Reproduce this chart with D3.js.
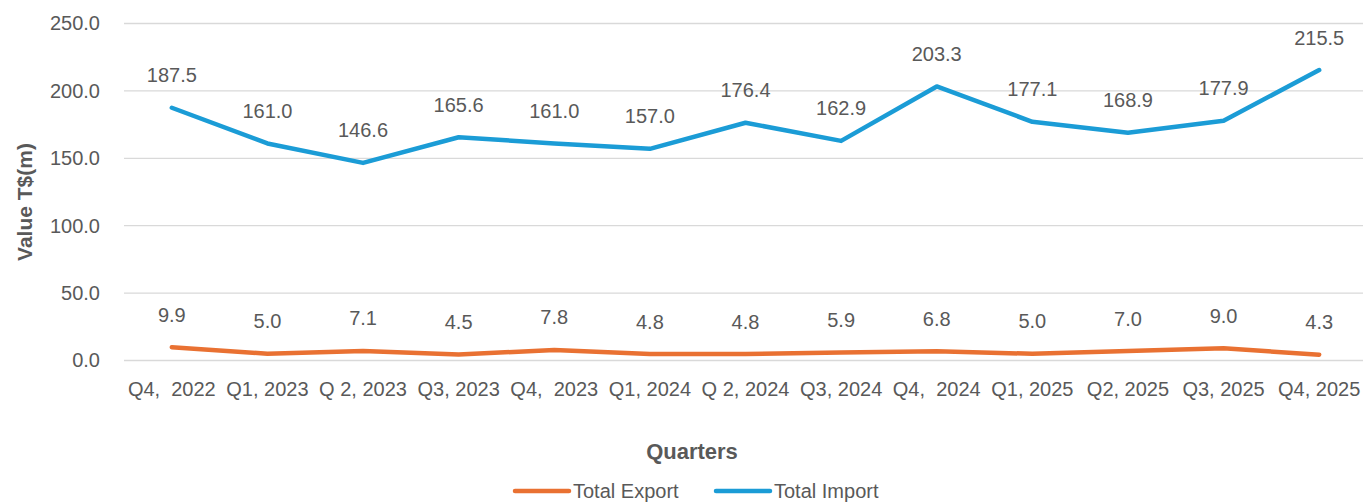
<!DOCTYPE html>
<html>
<head>
<meta charset="utf-8">
<script src="https://cdn.jsdelivr.net/npm/d3@7"></script>
<style>
  body { margin: 0; background: #fff; }
  text { font-family: "Liberation Sans", Arial, sans-serif; fill: #595959; }
</style>
</head>
<body>
<div class="container"></div>
<script>
// chart data
const quarters = ["Q4,  2022", "Q1, 2023", "Q 2, 2023", "Q3, 2023", "Q4,  2023", "Q1, 2024", "Q 2, 2024",
                  "Q3, 2024", "Q4,  2024", "Q1, 2025", "Q2, 2025", "Q3, 2025", "Q4, 2025"];
const totalExport = [9.9, 5.0, 7.1, 4.5, 7.8, 4.8, 4.8, 5.9, 6.8, 5.0, 7.0, 9.0, 4.3];
const totalImport = [187.5, 161.0, 146.6, 165.6, 161.0, 157.0, 176.4, 162.9, 203.3, 177.1, 168.9, 177.9, 215.5];
const yTicks = [0, 50, 100, 150, 200, 250];

const w = 1363, h = 503;
const plotLeft = 124, plotRight = 1367, plotTop = 23.5, plotBottom = 360.5;

const svg = d3.select(".container")
  .append("svg")
  .attr("width", w)
  .attr("height", h);

const xScale = d3.scaleBand()
  .domain(quarters)
  .range([plotLeft, plotRight]);

const yScale = d3.scaleLinear()
  .domain([0, 250])
  .range([plotBottom, plotTop]);

// gridlines
svg.append("g")
  .selectAll("line")
  .data(yTicks)
  .enter()
  .append("line")
  .attr("x1", plotLeft)
  .attr("x2", w)
  .attr("y1", d => yScale(d))
  .attr("y2", d => yScale(d))
  .attr("stroke", "#d9d9d9")
  .attr("stroke-width", 1.3);

// y axis labels
const yAxis = d3.axisLeft(yScale).tickValues(yTicks).tickFormat(d3.format(".1f")).tickSize(0).tickPadding(0);
const yAxisGroup = svg.append("g")
  .attr("transform", `translate(100,0)`)
  .call(yAxis);
yAxisGroup.select(".domain").remove();
yAxisGroup.selectAll("text")
  .style("font-size", "20px")
  .attr("fill", "#595959");

// x axis labels
const xAxis = d3.axisBottom(xScale).tickSize(0).tickPadding(21);
const xAxisGroup = svg.append("g")
  .attr("transform", `translate(0,${plotBottom})`)
  .call(xAxis);
xAxisGroup.select(".domain").remove();
xAxisGroup.selectAll("text")
  .style("font-size", "20px")
  .style("white-space", "pre")
  .attr("fill", "#595959");

// axis titles
svg.append("text")
  .attr("transform", "rotate(-90)")
  .attr("x", -202)
  .attr("y", 32)
  .style("font-size", "21px")
  .style("font-weight", "bold")
  .style("text-anchor", "middle")
  .text("Value T$(m)");

svg.append("text")
  .attr("x", 692)
  .attr("y", 459)
  .style("font-size", "22px")
  .style("font-weight", "bold")
  .style("text-anchor", "middle")
  .text("Quarters");

// lines
const series = [
  { name: "Total Export", values: totalExport, color: "#E97132" },
  { name: "Total Import", values: totalImport, color: "#1B9CD6" }
];

const line = d3.line()
  .x((d, i) => xScale(quarters[i]) + xScale.bandwidth() / 2)
  .y(d => yScale(d));

series.forEach(s => {
  svg.append("path")
    .datum(s.values)
    .attr("fill", "none")
    .attr("stroke", s.color)
    .attr("stroke-width", 4.5)
    .attr("stroke-linejoin", "round")
    .attr("stroke-linecap", "round")
    .attr("d", line);

  svg.append("g")
    .selectAll("text")
    .data(s.values)
    .enter()
    .append("text")
    .attr("x", (d, i) => xScale(quarters[i]) + xScale.bandwidth() / 2)
    .attr("y", d => yScale(d) - 25.5)
    .style("font-size", "20px")
    .style("text-anchor", "middle")
    .text(d => d3.format(".1f")(d));
});

// legend
const legend = svg.append("g").attr("transform", "translate(0,491)");
const legendX = [515, 716];
series.forEach((s, i) => {
  legend.append("line")
    .attr("x1", legendX[i])
    .attr("x2", legendX[i] + 54)
    .attr("y1", 0)
    .attr("y2", 0)
    .attr("stroke", s.color)
    .attr("stroke-width", 4.5)
    .attr("stroke-linecap", "round");
  legend.append("text")
    .attr("x", legendX[i] + 58)
    .attr("y", 6.5)
    .style("font-size", "20px")
    .text(s.name);
});
</script>
</body>
</html>
